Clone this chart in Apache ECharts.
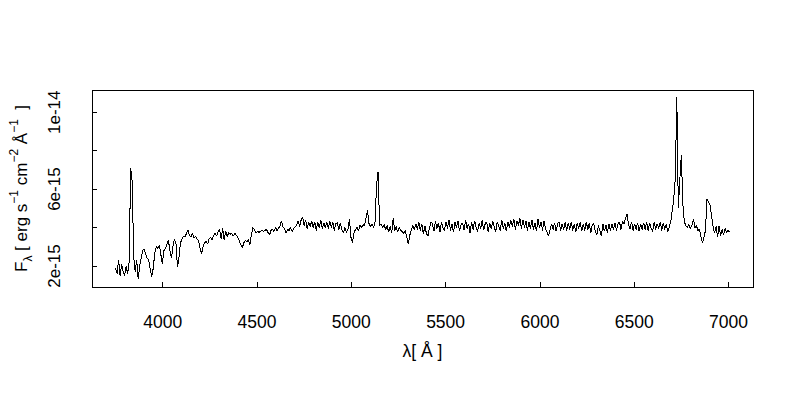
<!DOCTYPE html>
<html><head><meta charset="utf-8">
<script src="https://cdn.jsdelivr.net/npm/echarts@6/dist/echarts.min.js"></script>
<style>html,body{margin:0;padding:0;background:#fff}#c{width:800px;height:400px}#c svg path{shape-rendering:crispEdges}</style>
</head><body><div id="c"></div>
<script>
// spectrum sampling grid (Angstrom)
const lambdaStart = 3750;
const lambdaStep = 8;
// flux in units of 1e-15 erg s^-1 cm^-2 A^-1
const fluxE15 = [
1.9,1.6,2.3,1.5,2.1,1.7,1.5,2.0,1.6,2.2,
7.1,6.4,2.5,1.7,2.3,1.3,2.0,2.4,2.8,2.9,
2.6,2.4,2.3,1.8,1.45,1.9,2.7,3.0,2.9,3.1,
2.6,2.1,2.8,2.9,3.1,3.35,2.8,2.4,3.0,3.4,
3.2,1.95,2.4,3.2,3.4,3.55,3.5,3.7,3.85,3.6,
3.5,3.7,3.45,3.55,3.4,3.3,2.9,2.65,3.0,3.2,
3.3,3.15,3.4,3.5,3.35,3.6,3.7,3.55,3.8,3.9,
3.4,3.95,3.35,3.8,3.5,3.75,3.65,3.7,3.55,3.7,
3.6,3.5,3.3,3.1,2.95,3.2,3.35,3.25,3.4,3.1,
3.6,4.0,3.9,3.7,3.8,3.75,3.8,3.85,3.8,3.85,
3.9,3.75,3.6,3.85,3.9,3.8,4.0,3.85,3.95,4.1,
4.35,4.0,3.95,3.7,3.9,3.85,4.0,3.8,3.95,4.05,
4.1,4.35,4.05,4.4,4.55,4.1,4.4,3.95,4.3,4.05,
4.35,4.0,4.3,3.85,4.3,4.0,4.4,3.95,4.25,4.0,
4.3,3.95,4.35,4.0,4.3,3.85,4.2,4.25,3.9,4.25,
3.9,3.7,4.0,3.75,3.9,4.45,3.5,3.2,3.7,3.9,
4.0,3.85,4.1,4.0,4.15,4.1,4.5,4.9,4.2,4.05,
4.2,4.0,4.3,6.25,6.9,4.1,4.2,4.0,4.15,3.9,
4.1,3.75,4.05,3.7,4.5,3.85,4.05,3.75,4.0,3.85,
3.8,3.7,3.85,3.5,3.15,3.6,3.85,4.1,3.9,4.2,
3.9,4.3,3.85,4.2,3.65,4.1,3.7,3.55,3.95,4.3,
4.2,3.8,4.35,3.95,4.25,3.75,4.3,4.0,3.85,4.3,
3.95,4.4,3.85,4.2,3.75,4.3,4.0,4.35,3.8,4.15,
4.25,3.85,4.4,3.95,4.2,3.7,4.3,3.9,4.35,4.0,
3.8,4.25,3.95,4.4,3.85,4.2,4.3,3.75,4.25,3.95,
4.35,4.0,3.8,4.3,4.05,3.85,4.4,3.95,4.25,3.8,
4.3,4.0,4.4,4.05,4.45,3.9,4.35,4.1,4.5,3.95,
4.4,4.0,4.35,3.85,4.3,3.95,4.4,3.9,4.25,3.8,
4.45,4.0,4.3,3.85,4.35,3.9,3.75,3.55,3.9,4.2,
3.9,4.25,3.8,4.2,4.3,3.85,4.2,3.9,4.3,3.8,
4.25,3.9,4.3,3.85,4.2,3.75,4.25,3.95,4.3,3.8,
4.2,3.85,4.3,3.9,4.25,3.7,4.15,4.2,3.8,3.6,
4.1,3.85,3.55,4.2,3.8,4.15,3.7,4.2,3.85,4.2,
3.9,4.25,3.85,4.2,4.3,3.9,4.35,4.2,4.5,4.7,
4.15,3.95,4.3,3.85,4.2,3.9,4.25,3.8,4.2,3.9,
4.25,3.9,4.3,3.85,4.25,3.95,3.8,4.3,3.9,4.2,
3.95,4.3,3.85,4.25,3.9,4.2,3.75,4.05,4.3,4.9,
5.5,6.6,10.8,5.0,6.5,7.8,5.2,4.3,4.1,4.0,
4.15,3.95,4.1,4.45,4.0,4.1,3.85,3.9,3.5,3.2,
3.5,3.85,5.5,5.3,5.2,4.6,4.1,3.7,4.05,3.5,
4.1,3.55,3.9,3.6,3.95,3.75,3.85,3.75
];
const xTicks = [4000, 4500, 5000, 5500, 6000, 6500, 7000];
const yTicks = [2, 4, 6, 8, 10];
const yLabelValues = [2, 6, 10];
const yLabelTexts = ['2e-15', '6e-15', '1e-14'];

const seriesData = fluxE15.map((f, i) => [lambdaStart + i * lambdaStep, f]);

const FONT = "'Liberation Sans', Arial, Helvetica, sans-serif";
const chart = echarts.init(document.getElementById('c'), null, {renderer: 'svg'});
chart.setOption({
  animation: false,
  backgroundColor: '#fff',
  grid: {left: 91, top: 90, right: 47, bottom: 113, show: true, borderColor: '#000', borderWidth: 1, backgroundColor: 'transparent'},
  xAxis: {
    type: 'value', min: 3625, max: 7130,
    axisLine: {show: false},
    splitLine: {show: false},
    axisTick: {show: true, inside: true, length: 5, customValues: xTicks, lineStyle: {color: '#000', width: 1}},
    axisLabel: {customValues: xTicks, margin: 26, fontSize: 17.5, color: '#000', fontFamily: FONT,
      formatter: v => String(v)},
    name: 'λ[ Å ]', nameLocation: 'middle', nameGap: 55,
    nameTextStyle: {fontSize: 17.5, color: '#000', fontFamily: FONT}
  },
  yAxis: {
    type: 'value', min: 0.905, max: 11.16,
    axisLine: {show: false},
    splitLine: {show: false},
    axisTick: {show: true, inside: true, length: 5, customValues: yTicks, lineStyle: {color: '#000', width: 1}},
    axisLabel: {customValues: yLabelValues, rotate: 90, margin: 29, fontSize: 17, color: '#000', fontFamily: FONT,
      formatter: v => { const i = yLabelValues.findIndex(t => Math.abs(t - v) < 1e-6); return i >= 0 ? yLabelTexts[i] : ''; }},
    name: '{n|F}{sub|λ}{n| [ erg s}{sup|−1}{n| cm}{sup|−2}{n| Å}{sup|−1}{n|  ]}',
    nameLocation: 'middle', nameRotate: 90, nameGap: 58,
    nameTextStyle: {
      color: '#000', fontFamily: FONT, fontSize: 17,
      rich: {
        n: {fontSize: 17, color: '#000', fontFamily: FONT, lineHeight: 26, verticalAlign: 'middle'},
        sub: {fontSize: 12, color: '#000', fontFamily: FONT, lineHeight: 12, verticalAlign: 'bottom'},
        sup: {fontSize: 12, color: '#000', fontFamily: FONT, lineHeight: 12, verticalAlign: 'top'}
      }
    }
  },
  series: [{
    type: 'line', data: seriesData, showSymbol: false, symbol: 'none',
    lineStyle: {color: '#000', width: 1}, silent: true
  }]
});
</script></body></html>
